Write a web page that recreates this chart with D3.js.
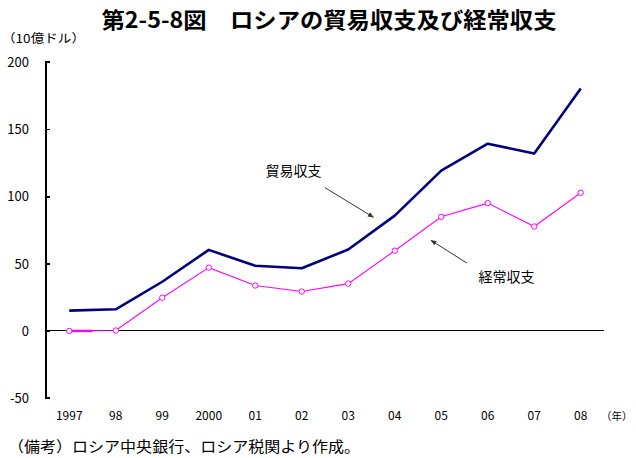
<!DOCTYPE html>
<html lang="ja">
<head>
<meta charset="UTF-8">
<title>第2-5-8図 ロシアの貿易収支及び経常収支</title>
<style>
    body {
        margin: 0;
        padding: 0;
        background-color: #fff;
    }
    svg text {
        font-family: "Noto Sans CJK JP", "Liberation Sans", sans-serif;
        fill: #000;
    }
</style>
</head>
<body>
<svg id="chart" width="636" height="458"></svg>

<script src="https://d3js.org/d3.v7.min.js"></script>
<script>
    // データ（10億ドル）
    var years = ["1997", "98", "99", "2000", "01", "02", "03", "04", "05", "06", "07", "08"];
    var tradeBalance = [15.0, 16.0, 36.5, 60.2, 48.4, 46.5, 60.5, 85.7, 119.2, 139.2, 131.9, 180.2];
    var currentAccount = [-0.1, 0.2, 24.6, 47.0, 33.7, 29.2, 35.1, 59.6, 84.8, 95.0, 77.6, 102.7];
    var yTicks = [-50, 0, 50, 100, 150, 200];

    const svg = d3.select("#chart");

    // 比例尺
    const xScale = d3.scalePoint()
      .domain(years)
      .range([46, 604])
      .padding(0.5);

    const yScale = d3.scaleLinear()
      .domain([-50, 200])
      .range([398, 62]);

    // 注記の位置用（年の番号 → x）
    const xIdx = d3.scaleLinear()
      .domain([0, years.length - 1])
      .range([xScale(years[0]), xScale(years[years.length - 1])]);

    // タイトル
    svg.append("text")
      .attr("x", 329)
      .attr("y", 28)
      .attr("text-anchor", "middle")
      .attr("font-size", 22)
      .attr("font-weight", "bold")
      .attr("textLength", 455)
      .attr("lengthAdjust", "spacingAndGlyphs")
      .text("第2-5-8図　ロシアの貿易収支及び経常収支");

    svg.append("text")
      .attr("x", 2)
      .attr("y", 43)
      .attr("font-size", 12)
      .attr("textLength", 83)
      .attr("lengthAdjust", "spacingAndGlyphs")
      .text("（10億ドル）");

    // y 軸（内向きの目盛）
    const yAxis = d3.axisRight(yScale)
      .tickValues(yTicks)
      .tickSize(4)
      .tickFormat("");

    svg.append("g")
      .attr("class", "y-axis")
      .attr("transform", "translate(46, 0)")
      .call(yAxis)
      .call(g => g.select(".domain").attr("d", `M4,${yScale(200)}H0V${yScale(-50)}H4`))
      .selectAll("path, line")
      .attr("stroke", "#000")
      .attr("stroke-width", 1.3)
      .attr("shape-rendering", "crispEdges");

    // 目盛ラベル
    svg.append("g")
      .selectAll("text")
      .data(yTicks)
      .join("text")
      .attr("x", 29)
      .attr("y", d => yScale(d) + 5)
      .attr("text-anchor", "end")
      .attr("font-family", "Liberation Sans")
      .attr("font-size", 13)
      .text(d => d);

    // ゼロ線
    svg.append("line")
      .attr("x1", 46)
      .attr("x2", 604)
      .attr("y1", yScale(0))
      .attr("y2", yScale(0))
      .attr("stroke", "#000")
      .attr("stroke-width", 1.2)
      .attr("shape-rendering", "crispEdges");

    // 年ラベル
    svg.append("g")
      .selectAll("text")
      .data(years)
      .join("text")
      .attr("x", d => xScale(d))
      .attr("y", 420)
      .attr("text-anchor", "middle")
      .attr("font-family", "Liberation Sans")
      .attr("font-size", 12)
      .text(d => d);

    svg.append("text")
      .attr("x", 601)
      .attr("y", 420)
      .attr("font-size", 10.5)
      .text("（年）");

    // 折れ線
    const line = d3.line()
      .x((d, i) => xScale(years[i]))
      .y(d => yScale(d));

    svg.append("path")
      .datum(tradeBalance)
      .attr("d", line)
      .attr("fill", "none")
      .attr("stroke", "#000080")
      .attr("stroke-width", 2.6)
      .attr("stroke-linejoin", "round");

    svg.append("path")
      .datum(currentAccount)
      .attr("d", line)
      .attr("fill", "none")
      .attr("stroke", "#ff00ff")
      .attr("stroke-width", 1.1);

    // 1997年の太い部分
    svg.append("line")
      .attr("x1", xIdx(0))
      .attr("x2", xIdx(0.5))
      .attr("y1", yScale(currentAccount[0]))
      .attr("y2", yScale(currentAccount[0]))
      .attr("stroke", "#ff00ff")
      .attr("stroke-width", 2.4);

    // 点
    svg.append("g")
      .selectAll("circle")
      .data(currentAccount)
      .join("circle")
      .attr("cx", (d, i) => xScale(years[i]))
      .attr("cy", d => yScale(d))
      .attr("r", 2.7)
      .attr("fill", "#fff")
      .attr("stroke", "#ff00ff")
      .attr("stroke-width", 1);

    // 矢印
    svg.append("defs").append("marker")
      .attr("id", "arrow")
      .attr("viewBox", "0 0 10 10")
      .attr("refX", 9)
      .attr("refY", 5)
      .attr("markerWidth", 6)
      .attr("markerHeight", 6)
      .attr("orient", "auto")
      .append("path")
      .attr("d", "M0,1L10,5L0,9z")
      .attr("fill", "#333");

    var notes = [
      { label: "貿易収支", tx: 4.22, ty: 115.5, x1: 5.5, y1: 106.5, x2: 6.54, y2: 84.5 },
      { label: "経常収支", tx: 8.8, ty: 36.2, x1: 8.55, y1: 50.4, x2: 7.78, y2: 67.3 }
    ];

    notes.forEach(function(n) {
      svg.append("text")
        .attr("x", xIdx(n.tx))
        .attr("y", yScale(n.ty))
        .attr("font-size", 14)
        .text(n.label);
      svg.append("line")
        .attr("x1", xIdx(n.x1))
        .attr("y1", yScale(n.y1))
        .attr("x2", xIdx(n.x2))
        .attr("y2", yScale(n.y2))
        .attr("stroke", "#333")
        .attr("stroke-width", 1)
        .attr("marker-end", "url(#arrow)");
    });

    // 備考
    svg.append("text")
      .attr("x", 8)
      .attr("y", 452)
      .attr("font-size", 15)
      .attr("textLength", 352)
      .attr("lengthAdjust", "spacingAndGlyphs")
      .text("（備考）ロシア中央銀行、ロシア税関より作成。");
</script>
</body>
</html>
